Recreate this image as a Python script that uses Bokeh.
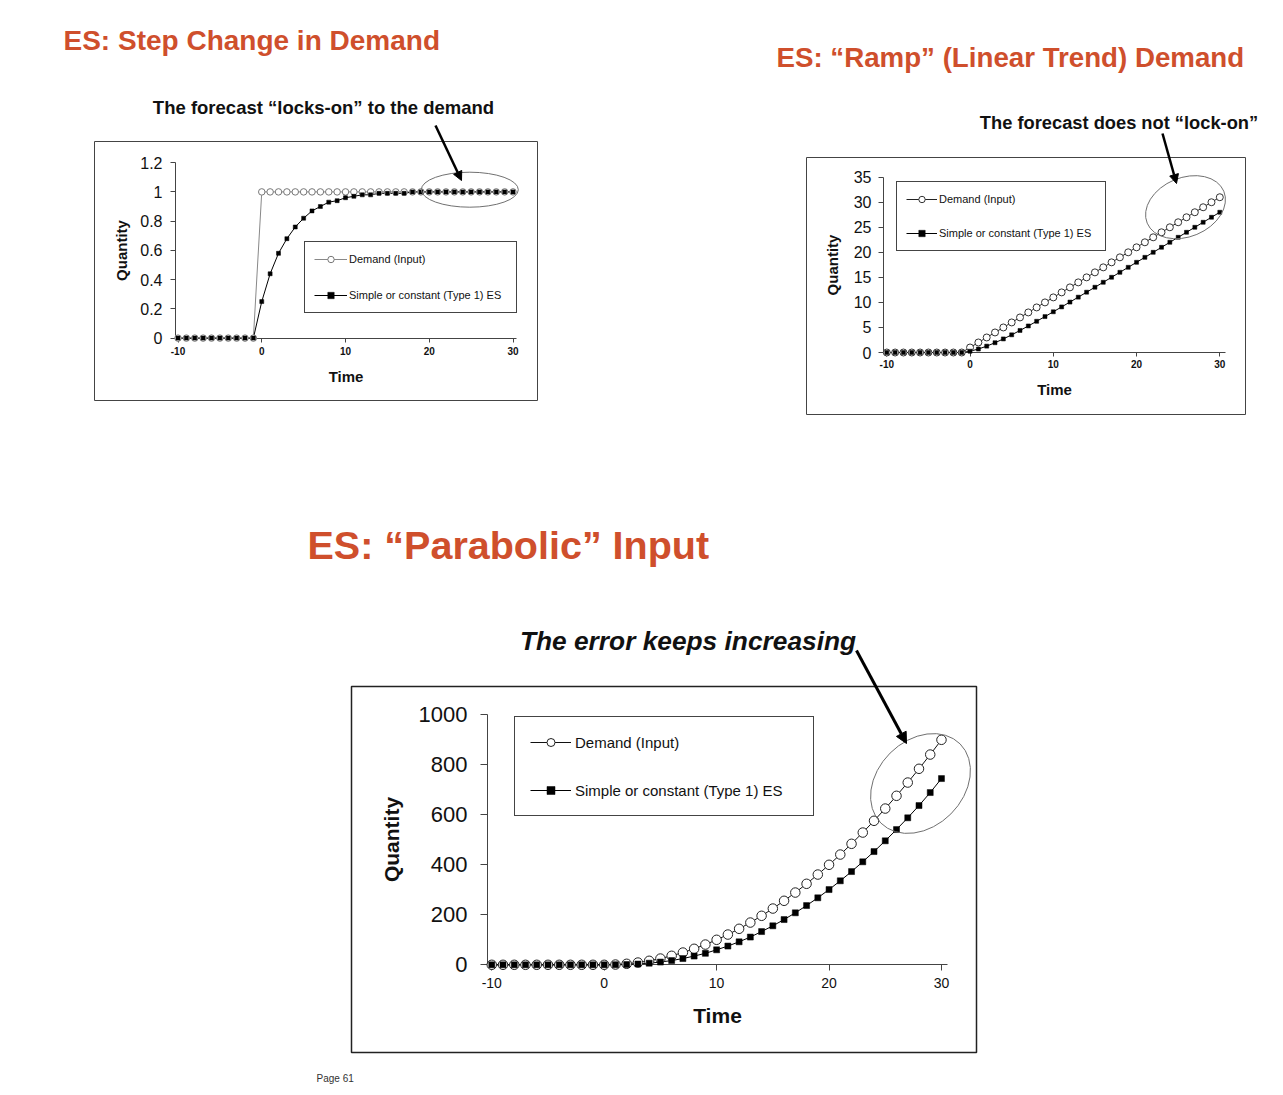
from bokeh.plotting import figure
from bokeh.models import (Range1d, FixedTicker, Label, Arrow, NormalHead, Legend, LegendItem,
                          BoxAnnotation)
from bokeh.layouts import column, row
from bokeh.embed import file_html
from bokeh.resources import INLINE

FONT = "Liberation Sans"
TITLE_COLOR = "#CF4F2C"
INK = "#111111"
AXIS = "#444444"

# ---------------- data ----------------
time = [-10, -9, -8, -7, -6, -5, -4, -3, -2, -1, 0, 1, 2, 3, 4, 5, 6, 7, 8, 9,
        10, 11, 12, 13, 14, 15, 16, 17, 18, 19, 20, 21, 22, 23, 24, 25, 26, 27, 28, 29, 30]

step_demand = [0, 0, 0, 0, 0, 0, 0, 0, 0, 0,
               1, 1, 1, 1, 1, 1, 1, 1, 1, 1,
               1, 1, 1, 1, 1, 1, 1, 1, 1, 1,
               1, 1, 1, 1, 1, 1, 1, 1, 1, 1, 1]
step_forecast = [0, 0, 0, 0, 0, 0, 0, 0, 0, 0,
                 0.25, 0.44, 0.58, 0.68, 0.76, 0.82, 0.87, 0.90, 0.93, 0.94,
                 0.96, 0.97, 0.98, 0.98, 0.99, 0.99, 0.99, 0.99, 1.0, 1.0,
                 1.0, 1.0, 1.0, 1.0, 1.0, 1.0, 1.0, 1.0, 1.0, 1.0, 1.0]

ramp_demand = [0, 0, 0, 0, 0, 0, 0, 0, 0, 0,
               1, 2, 3, 4, 5, 6, 7, 8, 9, 10,
               11, 12, 13, 14, 15, 16, 17, 18, 19, 20,
               21, 22, 23, 24, 25, 26, 27, 28, 29, 30, 31]
ramp_forecast = [0, 0, 0, 0, 0, 0, 0, 0, 0, 0,
                 0.25, 0.69, 1.27, 1.95, 2.71, 3.53, 4.40, 5.30, 6.23, 7.17,
                 8.13, 9.10, 10.07, 11.05, 12.04, 13.03, 14.02, 15.02, 16.01, 17.01,
                 18.01, 19.0, 20.0, 21.0, 22.0, 23.0, 24.0, 25.0, 26.0, 27.0, 28.0]

parab_demand = [0, 0, 0, 0, 0, 0, 0, 0, 0, 0,
                0, 1, 4, 9, 16, 25, 36, 49, 64, 81,
                100, 121, 144, 169, 196, 225, 256, 289, 324, 361,
                400, 441, 484, 529, 576, 625, 676, 729, 784, 841, 900]
parab_forecast = [0, 0, 0, 0, 0, 0, 0, 0, 0, 0,
                  0, 0.3, 1.2, 3.1, 6.4, 11, 17, 25, 35, 46,
                  60, 75, 92, 111, 133, 156, 181, 208, 237, 268,
                  301, 336, 373, 412, 453, 496, 541, 588, 637, 689, 745]

x_ticks = [-10, 0, 10, 20, 30]
x_tick_labels = ["-10", "0", "10", "20", "30"]

step_y_ticks = [0, 0.2, 0.4, 0.6, 0.8, 1.0, 1.2]
step_y_tick_labels = ["0", "0.2", "0.4", "0.6", "0.8", "1", "1.2"]
ramp_y_ticks = [0, 5, 10, 15, 20, 25, 30, 35]
ramp_y_tick_labels = ["0", "5", "10", "15", "20", "25", "30", "35"]
parab_y_ticks = [0, 200, 400, 600, 800, 1000]
parab_y_tick_labels = ["0", "200", "400", "600", "800", "1000"]

legend_labels = ["Demand (Input)", "Simple or constant (Type 1) ES"]
x_label = "Time"
y_label = "Quantity"

titles = ["ES: Step Change in Demand", "ES: \u201cRamp\u201d (Linear Trend) Demand",
          "ES: \u201cParabolic\u201d Input"]
notes = ["The forecast \u201clocks-on\u201d to the demand",
         "The forecast does not \u201clock-on\u201d",
         "The error keeps increasing"]


def build_chart(cfg, demand, forecast, y_ticks, y_tick_labels):
    cx, cy, W, H = cfg["canvas"]
    L, T, R, B = cfg["box"]
    x0px, xppu, y0px, yppu = cfg["scale"]

    def fx(px):
        return (px - x0px) / xppu

    def fy(py):
        return (y0px - py) / yppu

    p = figure(width=W, height=H, output_backend="svg", toolbar_location=None,
               x_range=Range1d(fx(cx), fx(cx + W)), y_range=Range1d(fy(cy + H), fy(cy)),
               min_border=0, background_fill_color="white", border_fill_color="white",
               outline_line_color=None)
    p.title.visible = False
    p.xgrid.visible = False
    p.ygrid.visible = False

    # frame around the chart
    p.add_layout(BoxAnnotation(left=fx(L), right=fx(R), top=fy(T), bottom=fy(B),
                               fill_color=None, fill_alpha=0,
                               line_color=cfg["box_color"], line_width=cfg["box_width"],
                               line_alpha=1.0, level="underlay"))

    xa = p.xaxis[0]
    ya = p.yaxis[0]
    ax_l, ax_r = cfg["axis_px"]
    xa.fixed_location = 0
    xa.bounds = (fx(ax_l), fx(ax_r))
    ya.fixed_location = fx(ax_l)
    ya.bounds = (y_ticks[0], y_ticks[-1])
    xa.ticker = FixedTicker(ticks=x_ticks, minor_ticks=[])
    ya.ticker = FixedTicker(ticks=y_ticks, minor_ticks=[])
    xa.major_label_overrides = {t: s for t, s in zip(x_ticks, x_tick_labels)}
    ya.major_label_overrides = {t: s for t, s in zip(y_ticks, y_tick_labels)}
    for ax in (xa, ya):
        ax.level = "underlay"
        ax.axis_line_color = AXIS
        ax.axis_line_width = 1
        ax.major_tick_line_color = AXIS
        ax.minor_tick_line_color = None
        ax.major_tick_in = 0
        ax.major_label_text_font = FONT
        ax.major_label_text_color = INK
        ax.axis_label_text_font = FONT
        ax.axis_label_text_font_style = "bold"
        ax.axis_label_text_color = INK
    xa.axis_label = x_label
    ya.axis_label = y_label
    xs = cfg["xaxis_style"]
    ys = cfg["yaxis_style"]
    xa.major_tick_out = xs["tick"]
    xa.major_label_standoff = xs["standoff"]
    xa.major_label_text_font_size = xs["font"]
    xa.major_label_text_font_style = xs["weight"]
    xa.axis_label_text_font_size = xs["label_font"]
    xa.axis_label_standoff = xs["label_standoff"]
    ya.major_tick_out = ys["tick"]
    ya.major_label_standoff = ys["standoff"]
    ya.major_label_text_font_size = ys["font"]
    ya.axis_label_text_font_size = ys["label_font"]
    ya.axis_label_standoff = ys["label_standoff"]

    st = cfg["series_style"]
    ld = p.line(time, demand, line_color=st["d_line"], line_width=1)
    lf = p.line(time, forecast, line_color="black", line_width=1)
    sd = p.scatter(time, demand, marker="circle", size=st["d_size"], fill_color="white",
                   line_color=st["d_marker"], line_width=1)
    sf = p.scatter(time, forecast, marker="square", size=st["f_size"], fill_color="black",
                   line_color="black", line_width=0.5)

    ex, ey, ew, eh, ea = cfg["ellipse"]
    p.ellipse(x=[fx(ex)], y=[fy(ey)], width=ew, height=eh, angle=ea,
              width_units="screen", height_units="screen",
              fill_color=None, line_color="#707070", line_width=1)

    lg = cfg["legend"]
    legend = Legend(items=[LegendItem(label=legend_labels[0], renderers=[ld, sd]),
                           LegendItem(label=legend_labels[1], renderers=[lf, sf])],
                    location=(lg["box"][0] - cx, cy + H - lg["box"][1]),
                    margin=0, padding=lg["padding"], spacing=lg["spacing"],
                    glyph_width=lg["glyph_width"], glyph_height=lg["item_h"],
                    label_height=lg["item_h"], label_width=lg["label_width"],
                    label_standoff=lg["standoff"], label_text_font=FONT,
                    label_text_font_size=lg["font"], label_text_color=INK,
                    border_line_color="#444444", border_line_width=1, border_line_alpha=1.0,
                    background_fill_color="white", background_fill_alpha=1.0)
    p.add_layout(legend)

    (sx, sy), (tx, ty), lw, hs = cfg["arrow"]
    p.add_layout(Arrow(end=NormalHead(size=hs, fill_color="black", line_color="black", line_width=1),
                       x_start=fx(sx), y_start=fy(sy), x_end=fx(tx), y_end=fy(ty),
                       line_width=lw, line_color="black"))

    for text, px, py, size, style, color, align in cfg["texts"]:
        p.add_layout(Label(x=fx(px), y=fy(py), text=text, text_font=FONT,
                           text_font_size=size, text_font_style=style, text_color=color,
                           text_align=align, text_baseline="middle"))
    return p


cfg1 = dict(
    canvas=(0, 0, 760, 440), box=(94, 141, 537, 400), box_color="#444444", box_width=1,
    scale=(261.25, 8.375, 337.6, 146.2), axis_px=(175, 516),
    xaxis_style=dict(tick=4, standoff=5, font="10px", weight="bold", label_font="15px",
                     label_standoff=9),
    yaxis_style=dict(tick=5, standoff=8, font="16px", label_font="15px", label_standoff=7),
    series_style=dict(d_line="#888888", d_marker="#777777", d_size=6.5, f_size=4),
    ellipse=(469.3, 189.2, 97, 35, 0.0),
    # legend box given as (left, bottom) in page pixels
    legend=dict(box=(304, 313), padding=9, spacing=20, glyph_width=33, item_h=16,
                label_width=158, standoff=2, font="11px"),
    arrow=((435, 125), (461, 180), 2.5, 9),
    texts=[(titles[0], 63, 40, "28px", "bold", TITLE_COLOR, "left"),
           (notes[0], 323, 107, "18.5px", "bold", INK, "center")],
)

cfg2 = dict(
    canvas=(760, 0, 520, 440), box=(806, 157, 1245, 414), box_color="#444444", box_width=1,
    scale=(969.55, 8.325, 352.0, 5.0086), axis_px=(883, 1225),
    xaxis_style=dict(tick=4, standoff=3, font="10px", weight="bold", label_font="15px",
                     label_standoff=10),
    yaxis_style=dict(tick=5, standoff=7, font="16px", label_font="15px", label_standoff=10),
    series_style=dict(d_line="#222222", d_marker="#333333", d_size=7, f_size=4),
    ellipse=(1185, 206.7, 83, 59, 0.395),
    legend=dict(box=(896, 251), padding=9, spacing=18, glyph_width=31, item_h=16,
                label_width=157, standoff=2, font="11px"),
    arrow=((1162, 133), (1176, 183), 2.5, 9),
    texts=[(titles[1], 776, 57, "27.7px", "bold", TITLE_COLOR, "left"),
           (notes[1], 1118.5, 122, "18.3px", "bold", INK, "center")],
)

cfg3 = dict(
    canvas=(0, 440, 1280, 650), box=(351, 686, 976, 1052), box_color="#222222", box_width=1.5,
    scale=(603.7, 11.2425, 964.3, 0.25), axis_px=(487, 946.7),
    xaxis_style=dict(tick=6, standoff=7, font="14px", weight="normal", label_font="21px",
                     label_standoff=13),
    yaxis_style=dict(tick=7, standoff=13, font="22px", label_font="21px", label_standoff=13),
    series_style=dict(d_line="#111111", d_marker="#222222", d_size=9.5, f_size=6),
    ellipse=(920, 783, 112, 86, 0.785),
    legend=dict(box=(514, 816), padding=15, spacing=28, glyph_width=41, item_h=20,
                label_width=223, standoff=4, font="15px"),
    arrow=((856, 650), (906, 743), 3, 11),
    texts=[(titles[2], 307, 544, "39.5px", "bold", TITLE_COLOR, "left"),
           (notes[2], 687.5, 640, "26.3px", "bold italic", INK, "center"),
           ("Page 61", 316, 1078, "10px", "normal", "#333333", "left")],
)

p1 = build_chart(cfg1, step_demand, step_forecast, step_y_ticks, step_y_tick_labels)
p2 = build_chart(cfg2, ramp_demand, ramp_forecast, ramp_y_ticks, ramp_y_tick_labels)
p3 = build_chart(cfg3, parab_demand, parab_forecast, parab_y_ticks, parab_y_tick_labels)

layout = column(row(p1, p2), p3)
open("out.html", "w").write(file_html(layout, INLINE))
